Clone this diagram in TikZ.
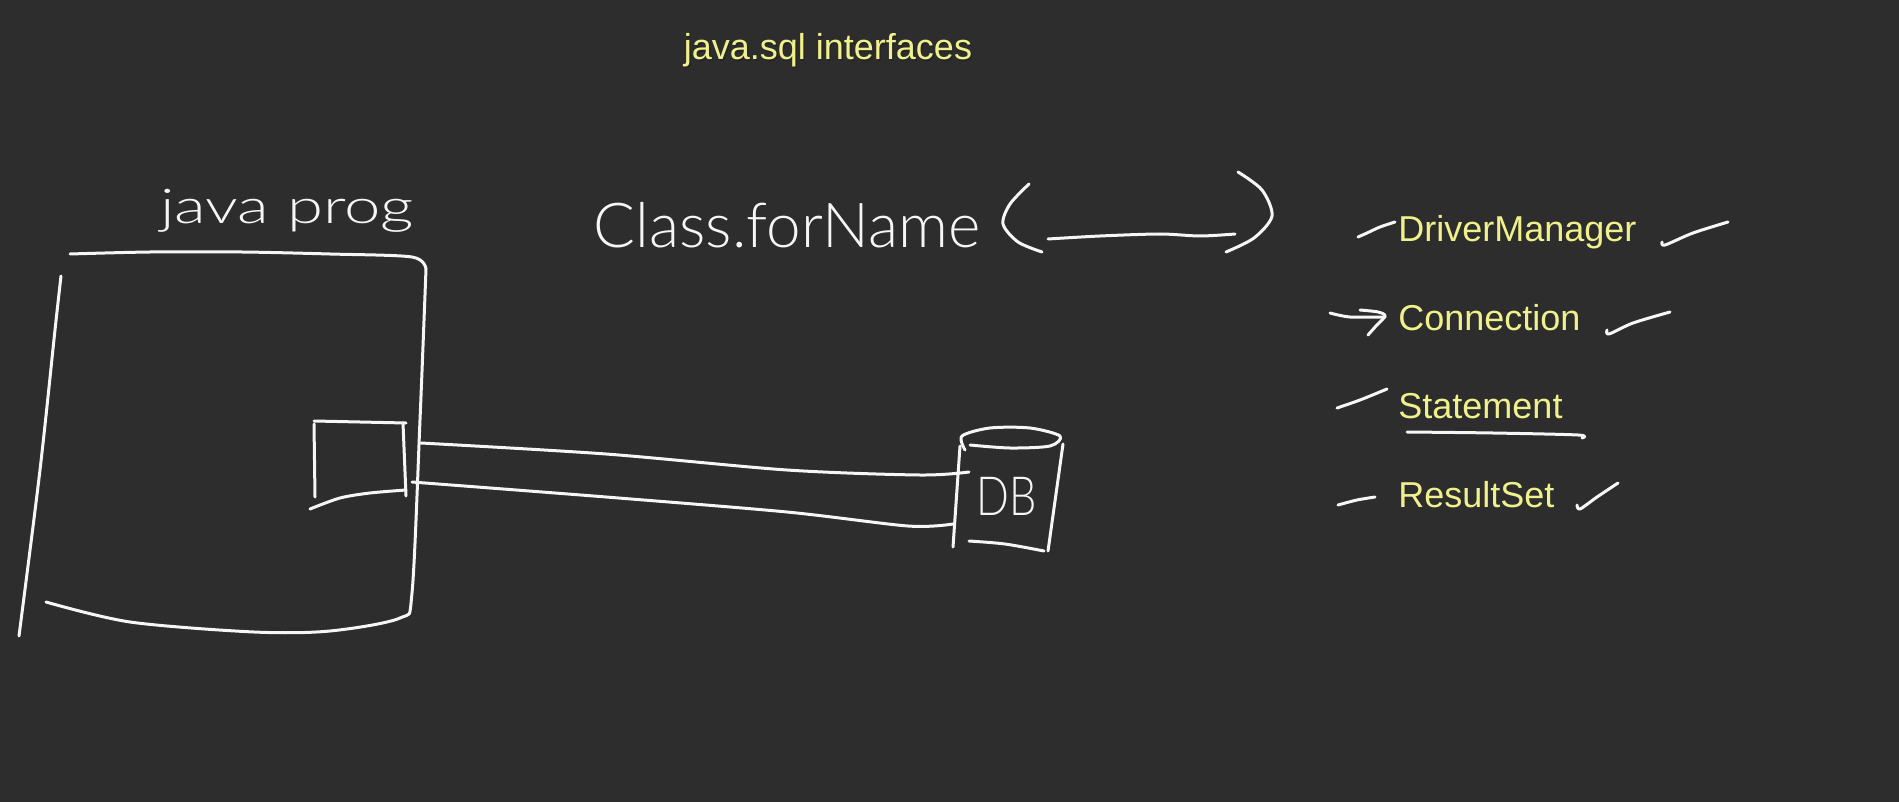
\documentclass[tikz,border=0pt]{standalone}
\usepackage{fontspec}
\setmainfont{Liberation Sans}
\newfontfamily\hand{Lato Light}
\definecolor{bg}{RGB}{45,45,45}
\definecolor{hl}{RGB}{240,240,140}
\definecolor{chalk}{RGB}{246,246,246}
\tikzset{
  chalkline/.style={draw=chalk, line width=1.5pt, line cap=round, line join=round},
  typed/.style={text=hl, font=\fontsize{18}{20}\selectfont, inner sep=0pt, anchor=base west},
  shadowtext/.style={text=black!85, font=\fontsize{18}{20}\selectfont, inner sep=0pt},
  handtext/.style={text=chalk, inner sep=0pt, anchor=base},
}
\begin{document}
\begin{tikzpicture}[x=0.5pt,y=-0.5pt]
\fill[bg] (0,0) rectangle (1899,802);
\useasboundingbox (0,0) rectangle (1899,802);

% title
\node[shadowtext, anchor=base] at (829.5,61.5) {java.sql interfaces};
\node[typed, anchor=base] (title) at (828,60) {java.sql interfaces};

% typed list
\node[typed] (dm) at (1398,242) {DriverManager};
\node[typed] (conn) at (1398,330) {Connection};
\node[typed] (stmt) at (1398,418) {Statement};
\node[typed] (rs) at (1398,507) {ResultSet};

% handwritten labels
\node[handtext] (jp) at (287,224) {\hand\fontsize{24}{24}\selectfont\scalebox{1.36}[1]{java prog}};
\node[handtext] (cfn) at (787,248) {\hand\fontsize{31}{31}\selectfont Class.forName};
\node[handtext] (db) at (1007,515) {\hand\fontsize{27}{27}\selectfont\scalebox{0.8}[1]{DB}};

% parentheses and blank
\draw[chalkline] plot[smooth] coordinates {(1029,184) (1010,204) (1003,224) (1018,242) (1042,252)};
\draw[chalkline] plot[smooth] coordinates {(1048,239) (1100,236) (1160,234) (1200,236) (1235,234)};
\draw[chalkline] plot[smooth] coordinates {(1238,172) (1262,190) (1272,216) (1254,238) (1226,252)};

% java program container
\draw[chalkline] plot[smooth] coordinates {(70,254) (150,252) (242,252) (330,254) (412,257) (426,269)};
\draw[chalkline] plot[smooth] coordinates {(61,276) (55,330) (40,470) (19,636)};
\draw[chalkline] plot[smooth] coordinates {(426,269) (420,420) (412,593) (400,618) (330,631) (254,632) (130,622) (46,602)};

% inner box (driver)
\draw[chalkline] (314,421) -- (406,423);
\draw[chalkline] (314,424) -- (315,497);
\draw[chalkline] (403,423) -- (406,496);
\draw[chalkline] plot[smooth] coordinates {(310,509) (340,498) (370,493) (406,490)};

% DB cylinder
\coordinate (dbL) at (960,446);
\coordinate (dbR) at (1063,438);
\draw[chalkline] plot[smooth] coordinates {(965,450) (962,436) (990,428) (1030,428) (1060,436) (1050,446) (1010,448) (970,445)};
\draw[chalkline] (960,446) -- (953,547);
\draw[chalkline] (1063,444) -- (1048,551);
\draw[chalkline] plot[smooth] coordinates {(969,541) (1005,544) (1044,551)};

% pipe connecting driver to DB
\coordinate (p1s) at (421,443);
\coordinate (p1e) at (969,472);
\coordinate (p2s) at (412,482);
\coordinate (p2e) at (953,524);
\draw[chalkline] plot[smooth] coordinates {(p1s) (606,454) (787,470) (920,475) (p1e)};
\draw[chalkline] plot[smooth] coordinates {(p2s) (606,497) (787,512) (908,526) (p2e)};

% ticks and arrow
\draw[chalkline] plot[smooth] coordinates {(1358,237) (1367,233) (1380,227) (1395,222)};
\draw[chalkline] plot[smooth] coordinates {(1662,242) (1665,245) (1693,233) (1728,222)};
\draw[chalkline] plot[smooth] coordinates {(1330,313) (1350,317) (1385,317)};
\draw[chalkline] plot[smooth] coordinates {(1360,310) (1378,312) (1385,316) (1376,326) (1368,335)};
\draw[chalkline] plot[smooth] coordinates {(1607,330) (1609,334) (1633,323) (1670,312)};
\draw[chalkline] plot[smooth] coordinates {(1337,408) (1360,400) (1387,389)};
\draw[chalkline] plot[smooth] coordinates {(1407,432) (1493,433) (1578,435) (1582,438)};
\draw[chalkline] plot[smooth] coordinates {(1338,505) (1357,500) (1375,497)};
\draw[chalkline] plot[smooth] coordinates {(1577,505) (1580,509) (1597,497) (1618,483)};
\end{tikzpicture}
\end{document}
